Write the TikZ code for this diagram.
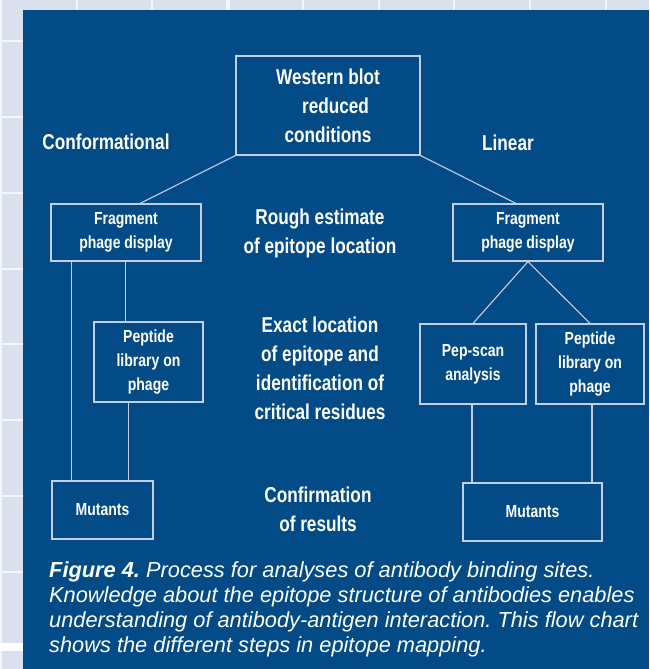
\documentclass[tikz,border=0pt]{standalone}
\usepackage{fontspec}
\setmainfont{Liberation Sans}
\newfontfamily\cond{Liberation Sans}[FakeStretch=0.8]
\usetikzlibrary{calc}
\definecolor{panel}{HTML}{034B86}
\definecolor{bgc}{HTML}{D9E1EE}
\definecolor{gridc}{HTML}{F3F6FB}
\definecolor{boxline}{HTML}{C3D0E4}
\tikzset{
  box/.style={draw=boxline, line width=1.2pt, inner sep=0pt, align=center,
    text=white, font=\cond\bfseries\fontsize{17.5}{24}\selectfont},
  stage/.style={inner sep=0pt, align=center, text=white,
    font=\cond\bfseries\fontsize{21.5}{29}\selectfont},
  link/.style={draw=boxline, line width=1.1pt},
  gridline/.style={draw=gridc, line width=2pt}
}
\begin{document}
\begin{tikzpicture}[x=1pt,y=-1pt]
\useasboundingbox (0,0) rectangle (649,669);
\fill[bgc] (0,0) rectangle (649,669);
% grid
\foreach \gx in {1,77,152,303,379,454,530,606}
  \draw[gridline] (\gx,0) -- (\gx,669);
\draw[gridline, line width=4pt] (228,0) -- (228,669);
\foreach \gy in {41,117,193,269,344,420,496,572}
  \draw[gridline] (0,\gy) -- (649,\gy);
\draw[gridline, line width=8pt, draw=white] (0,647) -- (649,647);
% panel
\fill[panel] (23,10) rectangle (649,669);

% boxes
\node[box, font=\cond\bfseries\fontsize{21.5}{29}\selectfont,
  minimum width=184pt, minimum height=99pt] (wb) at (328,105.5)
  {Western blot\\\hspace*{0.7em}reduced\\conditions};
\node[box, minimum width=150pt, minimum height=57pt] (fragL) at (126,232.5)
  {Fragment\\phage display};
\node[box, minimum width=150pt, minimum height=57pt] (fragR) at (528,232.5)
  {Fragment\\phage display};
\node[box, minimum width=109pt, minimum height=80pt] (pepL) at (148.5,362)
  {Peptide\\library on\\phage};
\node[box, minimum width=106pt, minimum height=80pt] (pepscan) at (473,364)
  {Pep-scan\\analysis};
\node[box, minimum width=108pt, minimum height=80pt] (pepR) at (590,364)
  {Peptide\\library on\\phage};
\node[box, minimum width=101pt, minimum height=58pt] (mutL) at (102.5,510)
  {Mutants};
\node[box, minimum width=139pt, minimum height=58pt] (mutR) at (532.5,512)
  {Mutants};

% stage labels
\node[stage] (conf) at (106,142) {Conformational};
\node[stage] (lin) at (508,143) {Linear};
\node[stage] (rough) at (320,233) {Rough estimate\\of epitope location};
\node[stage] (exact) at (320,368) {Exact location\\of epitope and\\identification of\\critical residues};
\node[stage] (confirm) at (318,509) {Confirmation\\of results};

% connectors
\draw[link] (wb.south west) -- ($(fragL.north west)!0.593!(fragL.north east)$);
\draw[link] (wb.south east) -- ($(fragR.north west)!0.42!(fragR.north east)$);
\coordinate (a1) at ($(fragL.south west)+(21,0)$);
\draw[link] (a1) -- (a1 |- mutL.north);
\coordinate (a2) at ($(pepL.north west)+(32,0)$);
\draw[link] (a2) -- (a2 |- fragL.south);
\coordinate (a3) at ($(pepL.south west)+(35,0)$);
\draw[link] (a3) -- (a3 |- mutL.north);
\draw[link] (fragR.south) -- (pepscan.north);
\draw[link] (fragR.south) -- (pepR.north);
\coordinate (b1) at ($(pepscan.south)+(-1,0)$);
\draw[link] (b1) -- (b1 |- mutR.north);
\coordinate (b2) at ($(pepR.south)+(2,0)$);
\draw[link] (b2) -- (b2 |- mutR.north);

% caption
\node[anchor=north west, inner sep=0pt, align=left, text=white,
  font=\frenchspacing\itshape\fontsize{21.8}{25}\selectfont] (cap) at (49,561)
  {\textbf{Figure 4.} Process for analyses of antibody binding sites.\\
   Knowledge about the epitope structure of antibodies enables\\
   understanding of antibody-antigen interaction. This flow chart\\
   shows the different steps in epitope mapping.};
\end{tikzpicture}
\end{document}
